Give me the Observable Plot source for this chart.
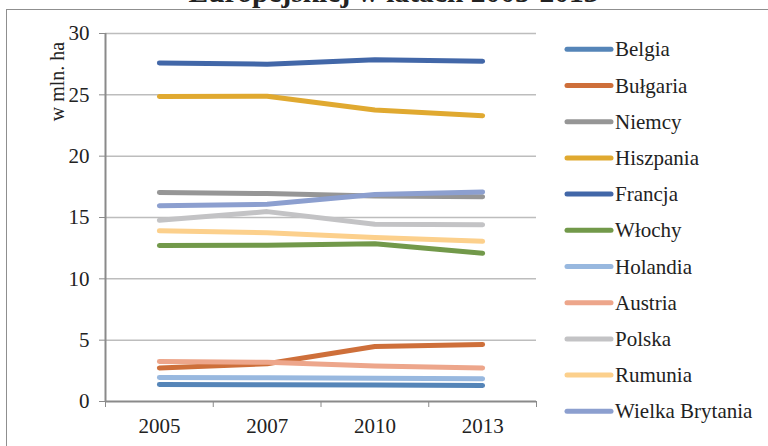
<!DOCTYPE html>
<html><head><meta charset="utf-8">
<script src="https://cdn.jsdelivr.net/npm/d3@7"></script>
<script src="https://cdn.jsdelivr.net/npm/@observablehq/plot@0.6"></script>
<style>
html,body{margin:0;padding:0;background:#fff}
body{width:768px;height:446px;overflow:hidden;position:relative;font-family:"Liberation Serif","Tinos","DejaVu Serif",serif;color:#222}
#frame{position:absolute;left:6px;top:9px;width:820px;height:520px;border:1px solid #8f8f8f;box-sizing:border-box}
#title{position:absolute;left:0;top:-22px;width:787px;text-align:center;font-weight:bold;font-size:29.5px;line-height:29.5px;white-space:nowrap}
#chart{position:absolute;left:0;top:0}
#legend{position:absolute;left:0;top:0}
svg text{fill:#222;font-family:"Liberation Serif","Tinos","DejaVu Serif",serif !important}
</style></head>
<body>
<div id="frame"></div>
<div id="title">Europejskiej w latach 2005-2013</div>
<div id="chart"></div>
<div id="legend"></div>
<script>
const years = ["2005", "2007", "2010", "2013"];
const countries = ["Belgia", "Bułgaria", "Niemcy", "Hiszpania", "Francja", "Włochy", "Holandia", "Austria", "Polska", "Rumunia", "Wielka Brytania"];
const colors = ["#5585b8", "#ce6f3a", "#969696", "#e0a930", "#4267a8", "#72994a", "#98b8df", "#eda68b", "#c3c3c5", "#fcd08c", "#8c9fcf"];
const belgia = [1.39, 1.37, 1.35, 1.31];
const bulgaria = [2.74, 3.07, 4.48, 4.65];
const niemcy = [17.03, 16.95, 16.76, 16.70];
const hiszpania = [24.86, 24.89, 23.77, 23.30];
const francja = [27.60, 27.50, 27.85, 27.74];
const wlochy = [12.71, 12.74, 12.86, 12.09];
const holandia = [1.96, 1.93, 1.90, 1.85];
const austria = [3.26, 3.19, 2.90, 2.74];
const polska = [14.78, 15.48, 14.45, 14.41];
const rumunia = [13.91, 13.76, 13.37, 13.06];
const wielkaBrytania = [15.96, 16.08, 16.88, 17.08];
const yTicks = [0, 5, 10, 15, 20, 25, 30];
const yLabel = "w mln. ha";

const series = [belgia, bulgaria, niemcy, hiszpania, francja, wlochy, holandia, austria, polska, rumunia, wielkaBrytania];
const data = [];
series.forEach((vals, i) => vals.forEach((v, j) => data.push({country: countries[i], year: j + 0.5, value: v})));

const FONT = "'Liberation Serif', 'Tinos', 'DejaVu Serif', serif";
const plot = Plot.plot({
  width: 768, height: 446,
  marginLeft: 105, marginRight: 232, marginTop: 33, marginBottom: 45,
  style: {fontFamily: FONT, fontSize: "21px", background: "transparent"},
  x: {domain: [0, years.length]},
  y: {domain: [0, 30]},
  color: {domain: countries, range: colors},
  marks: [
    Plot.gridY(yTicks.filter(d => d > 0), {stroke: "#bdbdbd", strokeOpacity: 1, strokeWidth: 1.5}),
    Plot.axisY({ticks: yTicks, tickSize: 6, tickPadding: 10, stroke: "#8a8a8a", label: null, fontSize: 21}),
    Plot.axisX({ticks: d3.range(years.length + 1), tickSize: 6, tickFormat: () => "", stroke: "#8a8a8a", label: null}),
    Plot.axisX({ticks: years.map((d, i) => i + 0.5), tickSize: 0, tickPadding: 17, tickFormat: d => years[Math.floor(d)], label: null, fontSize: 21}),
    Plot.ruleX([0], {stroke: "#8a8a8a", strokeWidth: 2}),
    Plot.ruleY([0], {stroke: "#8a8a8a", strokeWidth: 2}),
    Plot.line(data, {x: "year", y: "value", z: "country", stroke: "country", strokeWidth: 5, strokeLinecap: "round", strokeLinejoin: "round"}),
    Plot.text([yLabel], {frameAnchor: "top-left", dx: -56, dy: 48, rotate: -90, text: d => d, fontSize: 20, textAnchor: "middle"})
  ]
});
document.getElementById("chart").appendChild(plot);

// legend
const lg = d3.select("#legend").append("svg").attr("width", 768).attr("height", 446);
const row0 = 49.3, step = 36.2;
countries.forEach((c, i) => {
  const y = row0 + i * step;
  lg.append("line").attr("x1", 567).attr("x2", 611).attr("y1", y).attr("y2", y)
    .attr("stroke", colors[i]).attr("stroke-width", 5).attr("stroke-linecap", "round");
  lg.append("text").attr("x", 615).attr("y", y + 7).attr("font-size", 21).text(c);
});
</script>
</body></html>
